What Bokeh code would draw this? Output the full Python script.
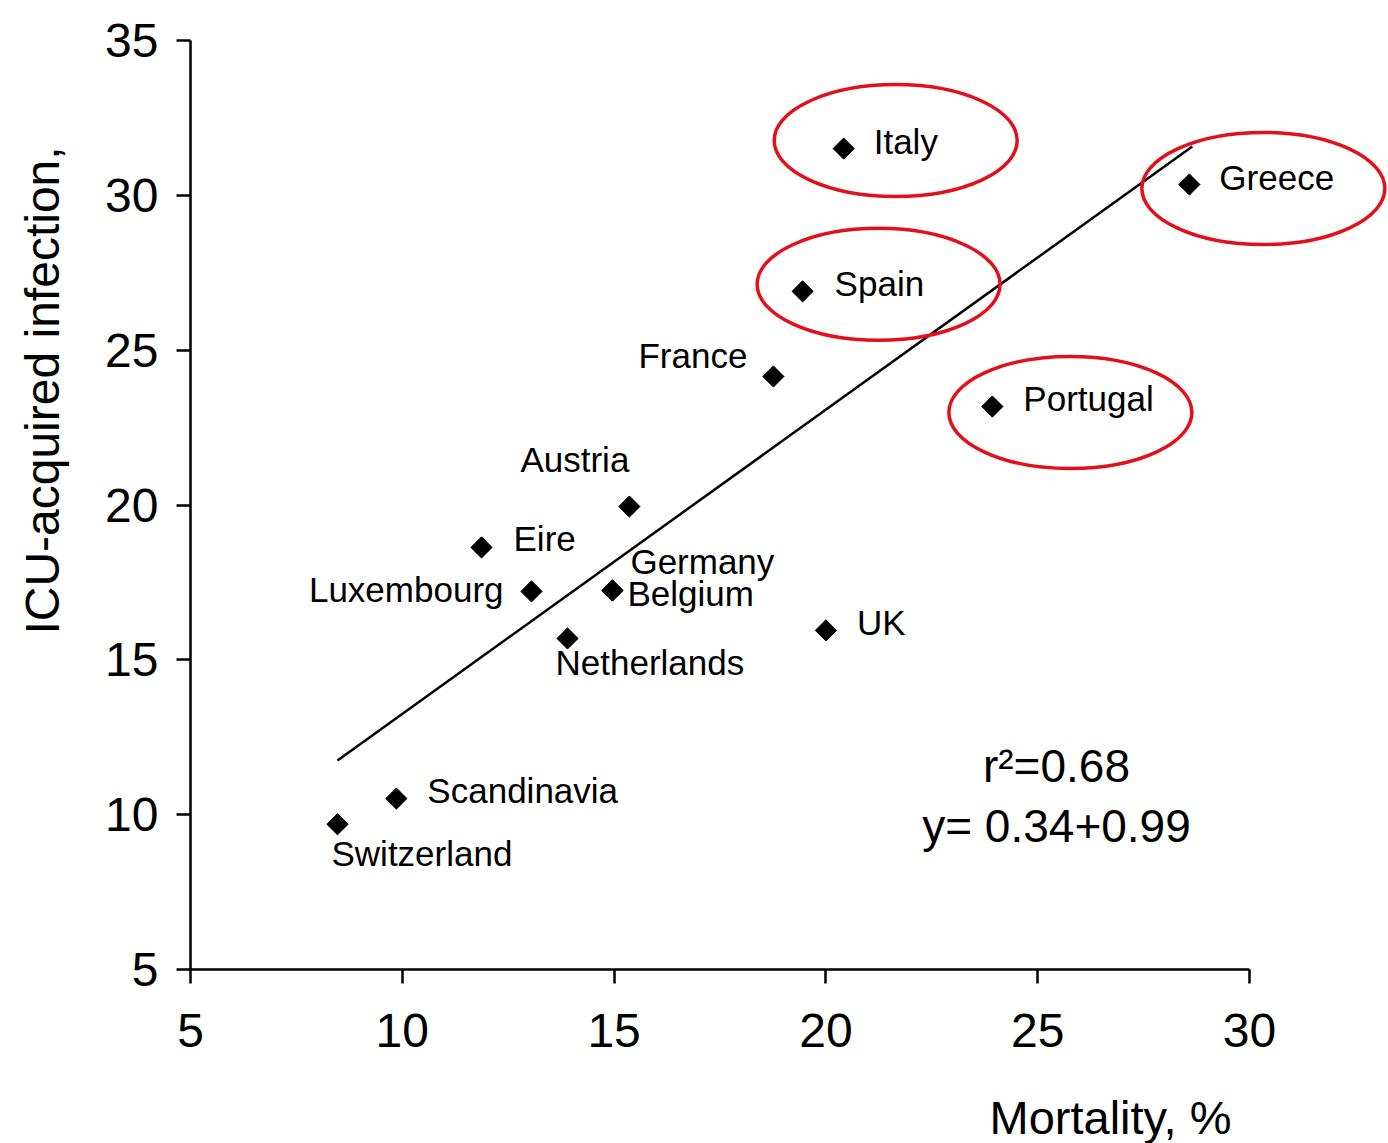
from bokeh.plotting import figure
from bokeh.models import Range1d, ColumnDataSource, FixedTicker, Label
from bokeh.core.properties import value
from bokeh.embed import file_html
from bokeh.resources import INLINE
import math

# ---- data ----
countries = ["Italy", "Greece", "Spain", "France", "Portugal", "Austria", "Eire",
             "Luxembourg", "Germany", "Belgium", "Netherlands", "UK",
             "Scandinavia", "Switzerland"]
mortality = [20.42, 28.58, 19.45, 18.76, 23.93, 15.36, 11.87,
             13.05, 14.96, 14.96, 13.90, 20.00, 9.86, 8.47]
infection = [31.51, 30.35, 26.90, 24.15, 23.18, 19.95, 18.63,
             17.21, 17.24, 17.24, 15.69, 15.95, 10.52, 9.69]

fit_x = [8.47, 28.65]
fit_y = [11.75, 31.58]

highlighted = ["Italy", "Greece", "Spain", "Portugal"]

x_ticks = [5, 10, 15, 20, 25, 30]
y_ticks = [5, 10, 15, 20, 25, 30, 35]

x_title = "Mortality, %"
y_title = "ICU-acquired infection,"
stat_lines = ["r\u00b2=0.68", "y= 0.34+0.99"]

# ---- label placement (screen pixel offsets from each point) ----
label_style = {
    "Italy": ("left", 30, -7),
    "Greece": ("left", 30, -7),
    "Spain": ("left", 32, -8),
    "France": ("right", -26, -21),
    "Portugal": ("left", 31, -8),
    "Austria": ("right", 0, -47),
    "Eire": ("left", 32, -9),
    "Luxembourg": ("right", -28, -2),
    "Germany": ("left", 18, -29),
    "Belgium": ("left", 15, 3),
    "Netherlands": ("left", -12, 24),
    "UK": ("left", 31, -8),
    "Scandinavia": ("left", 31, -8),
    "Switzerland": ("left", -6, 29),
}
ellipse_offset = {"Italy": (52, -8), "Greece": (74, 4), "Spain": (76, -7), "Portugal": (78, 6)}

FONT = "Liberation Sans"
W, H = 1388, 1143
left, top, bottom = 190, 40, 969          # pixel positions of x=5, y=35, y=5
x0, x1, y0, y1 = 5, 30, 5, 35
px_per_x = (1249 - left) / (x1 - x0)
px_per_y = (bottom - top) / (y1 - y0)

def sx(px):
    return x0 + (px - left) / px_per_x

def sy(py):
    return y1 - (py - top) / px_per_y

p = figure(width=W, height=H,
           x_range=Range1d(sx(0), sx(W)), y_range=Range1d(sy(H), sy(0)),
           output_backend="svg", toolbar_location=None,
           min_border_left=0, min_border_right=0, min_border_top=0, min_border_bottom=0)
p.outline_line_color = None
p.xgrid.visible = False
p.ygrid.visible = False
p.background_fill_color = "white"
p.border_fill_color = "white"

for ax in (p.xaxis[0], p.yaxis[0]):
    ax.major_tick_in = 0
    ax.major_tick_out = 14
    ax.minor_tick_line_color = None
    ax.axis_line_width = 2.5
    ax.axis_line_color = "black"
    ax.major_tick_line_width = 2.5
    ax.major_tick_line_color = "black"
    ax.major_label_text_font = FONT
    ax.major_label_text_font_size = "48px"
    ax.major_label_text_color = "black"

p.xaxis[0].ticker = FixedTicker(ticks=x_ticks)
p.xaxis[0].bounds = (x0, x1)
p.xaxis[0].fixed_location = y0
p.xaxis[0].major_label_standoff = 30
p.yaxis[0].ticker = FixedTicker(ticks=y_ticks)
p.yaxis[0].bounds = (y0, y1)
p.yaxis[0].fixed_location = x0
p.yaxis[0].major_label_standoff = 18

# regression line
p.line(fit_x, fit_y, line_color="black", line_width=2.5)

# points
p.scatter(mortality, infection, marker="square", size=15, angle=math.pi / 4,
          fill_color="black", line_color="black")

# labels
src = ColumnDataSource(dict(
    x=mortality, y=infection, t=countries,
    align=[label_style[c][0] for c in countries],
    dx=[label_style[c][1] for c in countries],
    dy=[label_style[c][2] for c in countries],
))
p.text(x="x", y="y", text="t", source=src, x_offset="dx", y_offset="dy",
       text_align="align", text_baseline="middle",
       text_font=value(FONT), text_font_size="35px", text_color="black")

# red highlight ellipses
ex, ey = [], []
for c in highlighted:
    i = countries.index(c)
    dx, dy = ellipse_offset[c]
    ex.append(mortality[i] + dx / px_per_x)
    ey.append(infection[i] - dy / px_per_y)
p.ellipse(ex, ey, width=243, height=112, width_units="screen", height_units="screen",
          fill_color=None, line_color="#e3101a", line_width=3.5)

# regression statistics
p.text(x=[sx(1056)] * 2, y=[sy(765), sy(825)],
       text=stat_lines, text_align="center", text_baseline="middle",
       text_font=value(FONT), text_font_size="46px", text_color="black")

# axis titles
p.add_layout(Label(x=sx(1110), y=sy(1117), text=x_title,
                   text_align="center", text_baseline="middle",
                   text_font=FONT, text_font_size="47px", text_color="black"))
p.add_layout(Label(x=sx(42), y=sy(390), text=y_title, angle=math.pi / 2,
                   text_align="center", text_baseline="middle",
                   text_font=FONT, text_font_size="48px", text_color="black"))

open("out.html", "w").write(file_html(p, INLINE))
